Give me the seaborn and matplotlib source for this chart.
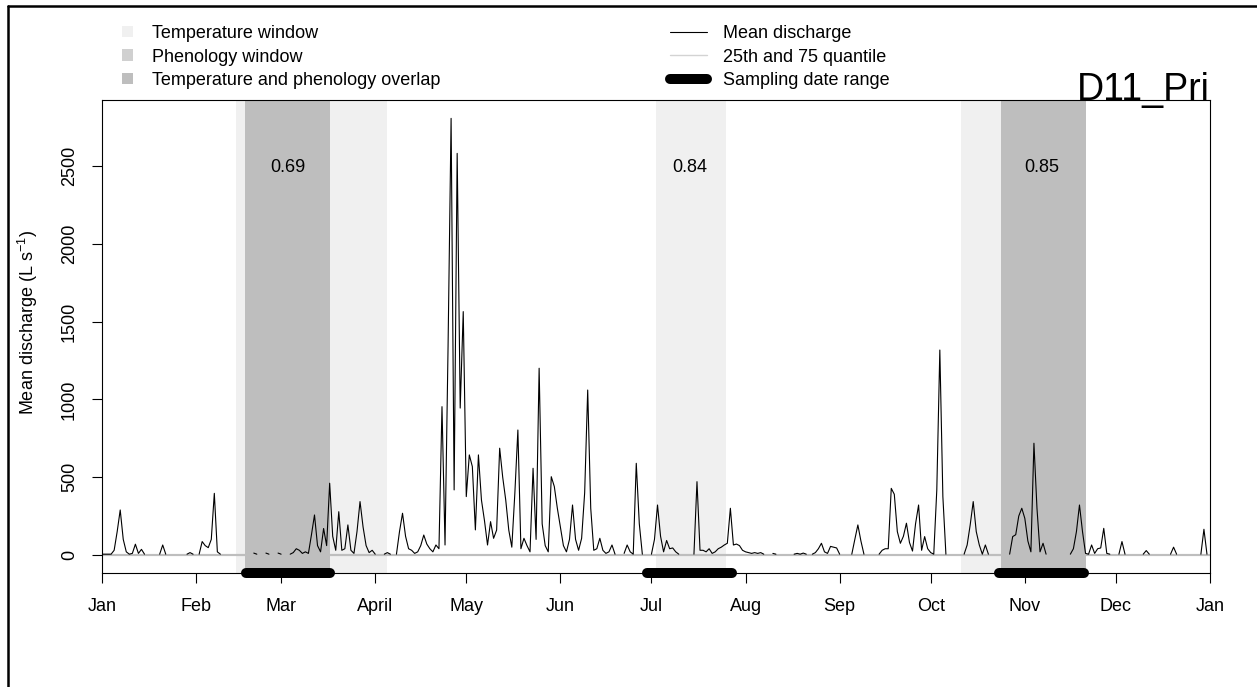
import matplotlib
matplotlib.use('Agg')
import matplotlib.pyplot as plt
from matplotlib.lines import Line2D
from matplotlib.patches import Patch
import numpy as np
import pandas as pd
import seaborn as sns

na = np.nan

# daily mean discharge (L s-1), one list per month (nan = no data)
jan = [5, 5, 5, 5, 30, 150, 289, 100, 20, 5, 10, 69, 10, 36, 5, na, na, na, na, 5,
       64, 5, na, na, na, na, na, na, 5, 15, 5]
feb = [na, 5, 86, 60, 47, 100, 396, 20, 5, na, na, na, na, na, na, na, na, na, na, 12,
       5, na, na, 12, 5, na, na, 12]
mar = [5, na, na, 5, 15, 40, 30, 10, 20, 10, 130, 257, 60, 20, 170, 60, 461, 120, 30, 278,
       30, 40, 193, 30, 10, 150, 343, 180, 60, 15, 30]
apr = [5, na, na, 5, 15, 5, na, 5, 150, 268, 120, 40, 30, 10, 20, 60, 128, 70, 40, 20,
       64, 40, 953, 64, 1339, 2806, 418, 2581, 944, 1564]
may = [375, 643, 568, 161, 643, 353, 220, 64, 214, 107, 160, 686, 500, 353, 160, 50, 396, 803, 40, 107,
       60, 20, 557, 100, 1200, 200, 60, 20, 503, 440, 300]
jun = [180, 60, 20, 100, 321, 100, 30, 107, 400, 1060, 300, 30, 40, 107, 30, 10, 20, 64, 5, na,
       na, 10, 64, 20, 5, 589, 200, 5, na, na]
jul = [5, 100, 321, 120, 20, 93, 40, 45, 20, 5, na, na, na, na, 5, 471, 30, 30, 20, 40,
       10, 20, 40, 50, 64, 75, 300, 64, 70, 60, 30]
aug = [20, 15, 10, 15, 10, 15, 5, na, na, 10, 5, na, na, na, na, na, 5, 10, 5, 12,
       5, na, 5, 15, 40, 75, 20, 10, 55, 50, 45]
sep = [5, na, na, na, 5, 100, 193, 90, 5, na, na, na, na, 5, 30, 40, 40, 428, 390, 150,
       75, 120, 204, 80, 25, 200, 321, 30, 118, 40]
octo = [15, 5, 418, 1317, 375, 5, na, na, na, na, na, 5, 64, 193, 343, 150, 64, 5, 64, 5,
        na, na, na, na, na, na, 5, 118, 130, 250, 300]
nov = [235, 90, 20, 718, 300, 20, 75, 5, na, na, na, na, na, na, na, 5, 40, 150, 321, 150,
       10, 5, 64, 10, 40, 45, 171, 10, 5, na]
dec = [na, 5, 86, 5, na, na, na, na, na, 5, 28, 5, na, na, na, na, na, na, 5, 50,
       5, na, na, na, na, na, na, na, 5, 165, 5]

month_starts = [0, 31, 59, 90, 120, 151, 181, 212, 243, 273, 304, 334, 365]
month_labels = ['Jan', 'Feb', 'Mar', 'April', 'May', 'Jun', 'Jul', 'Aug', 'Sep', 'Oct', 'Nov', 'Dec', 'Jan']
q25 = [0, 0, 0, 0, 0, 0, 0, 0, 0, 0, 0, 0, 0]
q75 = [0, 0, 0, 0, 0, 0, 0, 0, 0, 0, 0, 0, 0]

temp_windows = [(44, 94), (182.5, 205.5), (283, 324)]
phen_windows = [(47, 75), (296, 324)]
sampling = [(47.5, 75), (179.5, 207.5), (295.5, 323.5)]
corr_labels = ['0.69', '0.84', '0.85']
site = 'D11_Pri'

sns.set_theme(style='ticks')
plt.rcParams['font.family'] = ['Liberation Sans', 'DejaVu Sans']
plt.rcParams['mathtext.fontset'] = 'custom'
plt.rcParams['mathtext.rm'] = 'Liberation Sans'
plt.rcParams['mathtext.it'] = 'Liberation Sans'
plt.rcParams['text.color'] = 'black'
plt.rcParams['axes.labelcolor'] = 'black'
plt.rcParams['xtick.color'] = 'black'
plt.rcParams['ytick.color'] = 'black'

q = jan + feb + mar + apr + may + jun + jul + aug + sep + octo + nov + dec
df = pd.DataFrame({'day': np.arange(len(q)), 'q': q})
df['seg'] = df['q'].isna().cumsum()
df = df.dropna()

c_temp, c_phen, c_both = '#F0F0F0', '#D0D0D0', '#BEBEBE'
ylo, yhi = -116, 2924

fig = plt.figure(figsize=(12.57, 6.87), dpi=100)
ax = fig.add_axes([102 / 1257, 1 - 573 / 687, 1108 / 1257, 473 / 687])

for a, b in temp_windows:
    ax.axvspan(a, b, color=c_temp, lw=0, zorder=0)
for a, b in phen_windows:
    ax.axvspan(a, b, color=c_phen, lw=0, zorder=0)
for a, b in temp_windows:
    for c, d in phen_windows:
        lo, hi = max(a, c), min(b, d)
        if lo < hi:
            ax.axvspan(lo, hi, color=c_both, lw=0, zorder=0)

qdf = pd.DataFrame({'day': month_starts, 'q25': q25, 'q75': q75})
sns.lineplot(data=qdf, x='day', y='q25', color='#BEBEBE', lw=1.5, ax=ax, zorder=2)
sns.lineplot(data=qdf, x='day', y='q75', color='#BEBEBE', lw=1.5, ax=ax, zorder=2)
sns.lineplot(data=df, x='day', y='q', units='seg', estimator=None, color='black', lw=0.8, ax=ax, zorder=3)

for (a, b), lab in zip(sampling, corr_labels):
    ax.plot([a, b], [ylo, ylo], color='black', lw=7.2, solid_capstyle='round', clip_on=False, zorder=6)
    ax.text((a + b) / 2, 2500, lab, ha='center', va='center_baseline', fontsize=13)

ax.set_xlim(0, 365)
ax.set_ylim(ylo, yhi)
ax.set_xticks(month_starts, month_labels)
ax.set_yticks([0, 500, 1000, 1500, 2000, 2500], ['0', '500', '1000', '1500', '2000', '2500'],
              rotation=90, va='center')
ax.tick_params(axis='both', labelsize=13, length=7.2, width=0.8, direction='out')
ax.tick_params(axis='x', pad=11)
ax.tick_params(axis='y', pad=10)
for s in ax.spines.values():
    s.set_color('black')
    s.set_linewidth(0.8)
ax.set_xlabel('')
ax.set_ylabel('Mean discharge (L s$^{-1}$)', fontsize=13, va='center')
ax.yaxis.set_label_coords((28 - 102) / 1108, (573 - 322) / 473)

ax.text(1.0, 1.0, site, transform=ax.transAxes, ha='right', va='baseline', fontsize=27)

h1 = [Patch(color=c_temp, lw=0), Patch(color=c_phen, lw=0), Patch(color=c_both, lw=0)]
leg1 = ax.legend(h1, ['Temperature window', 'Phenology window', 'Temperature and phenology overlap'],
                 loc='upper left', bbox_to_anchor=(122 / 1257, 1 - 25 / 687), bbox_transform=fig.transFigure,
                 frameon=False, fontsize=13, handlelength=0.6, handleheight=0.6, handletextpad=1.05,
                 labelspacing=0.36, borderpad=0, borderaxespad=0)
ax.add_artist(leg1)
h2 = [Line2D([], [], color='black', lw=0.8),
      Line2D([], [], color='#D3D3D3', lw=1.0),
      Line2D([], [], color='black', lw=7.2, solid_capstyle='round')]
ax.legend(h2, ['Mean discharge', '25th and 75 quantile', 'Sampling date range'],
          loc='upper left', bbox_to_anchor=(670 / 1257, 1 - 25 / 687), bbox_transform=fig.transFigure,
          frameon=False, fontsize=13, handlelength=2.05, handletextpad=0.9,
          labelspacing=0.36, borderpad=0, borderaxespad=0)

# outer frame (left and top edges only are visible in the original crop)
fig.add_artist(Line2D([8 / 1257, 8 / 1257], [0, 1 - 6 / 687], transform=fig.transFigure, color='black', lw=1.8))
fig.add_artist(Line2D([8 / 1257, 1], [1 - 6 / 687, 1 - 6 / 687], transform=fig.transFigure, color='black', lw=1.8))

fig.savefig('out.png', dpi=100)
